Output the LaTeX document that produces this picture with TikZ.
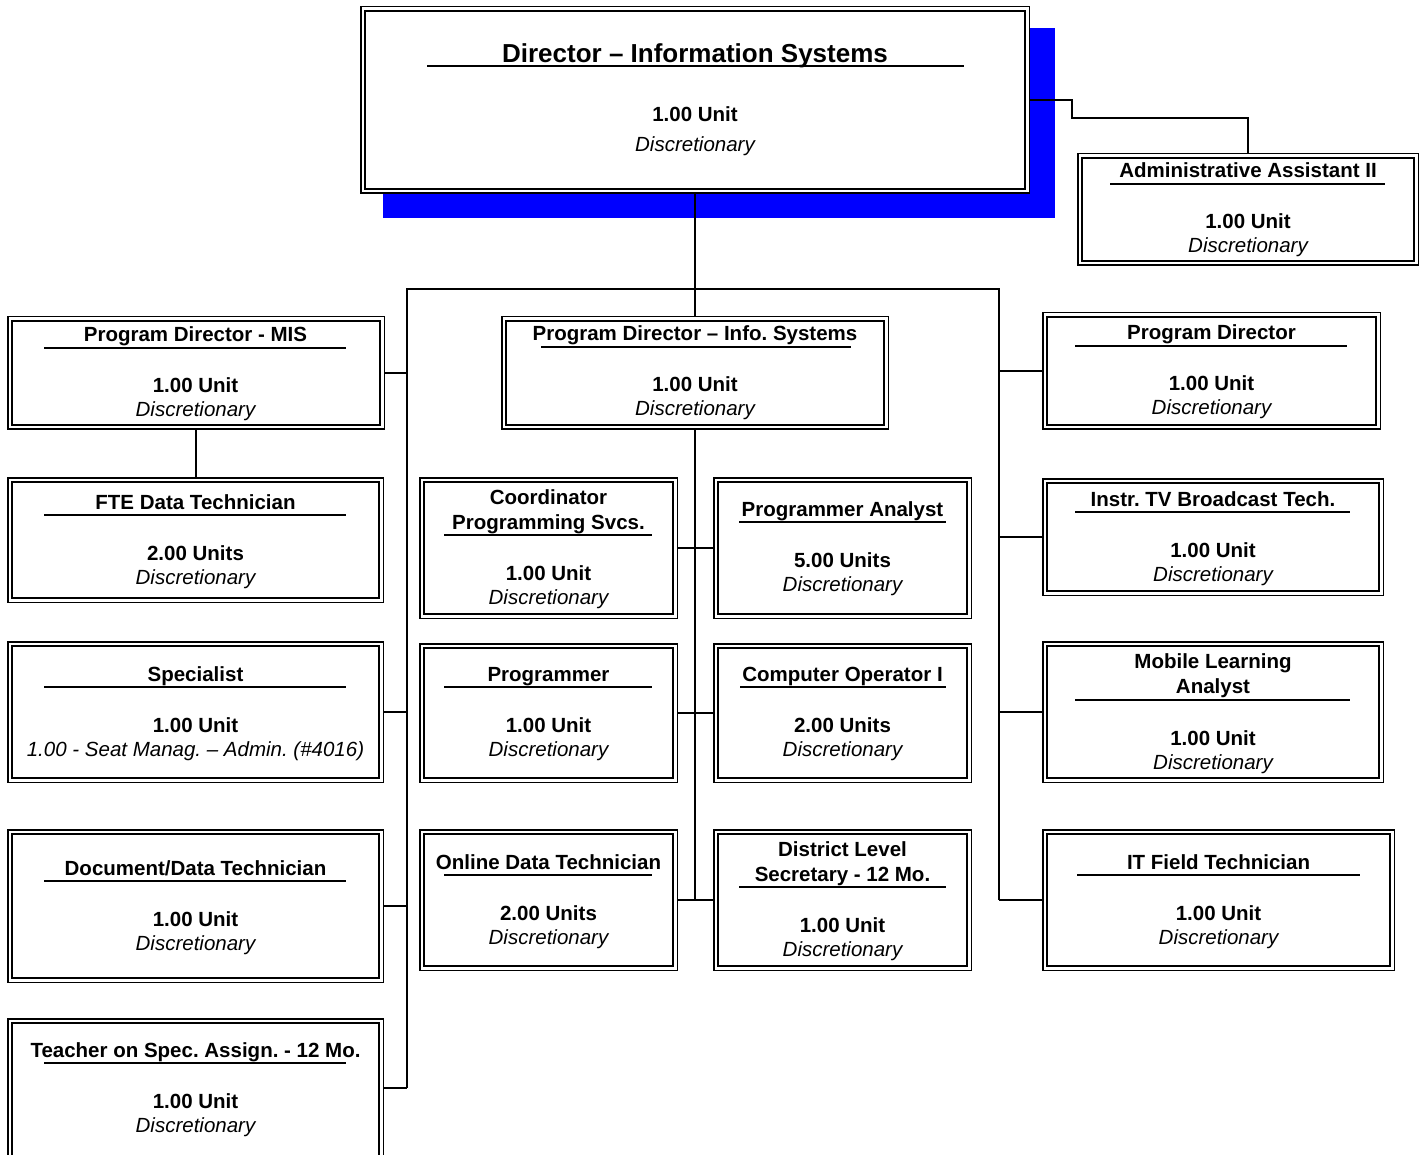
\documentclass[tikz,border=0pt]{standalone}
\usepackage{fontspec}
\setmainfont{Liberation Sans}
\usetikzlibrary{backgrounds}
\definecolor{shblue}{RGB}{0,0,255}
\frenchspacing
\newcommand{\fs}{\fontsize{20.5}{24}\selectfont\frenchspacing}
\newcommand{\fsbig}{\fontsize{26}{31}\selectfont\frenchspacing}
\newcommand{\bx}[5]{\node[orgbox, minimum width={#4pt-#2pt-5.6pt}, minimum height={#5pt-#3pt-5.6pt}] (#1) at ({(#2+#4)/2},{(#3+#5)/2}) {};}
% #1 prefix, #2 cx, #3 U, #4 ulx1, #5 ulx2, #6 unit, #7 sub
\newcommand{\stdtext}[7]{%
  \draw[ulline] (#4,#3) -- (#5,#3);
  \node[unitst] (#1u) at (#2,#3+45) {#6};
  \node[subst] (#1d) at (#2,#3+69) {#7};}
\begin{document}
\begin{tikzpicture}[x=1pt,y=-1pt,
  orgbox/.style={rectangle,draw=black,double=white,double distance=2.6pt,line width=1.5pt,fill=white,inner sep=0pt,outer sep=0pt},
  conn/.style={line width=1.9pt,draw=black},
  ulline/.style={line width=1.6pt,draw=black},
  titlest/.style={font=\bfseries\fs,anchor=base,inner sep=0pt},
  unitst/.style={font=\bfseries\fs,anchor=base,inner sep=0pt},
  subst/.style={font=\itshape\fs,anchor=base,inner sep=0pt}]
\useasboundingbox (0,0) rectangle (1422,1155);

% boxes
\bx{dir}{360}{6}{1030}{194}
\bx{admin}{1077}{153}{1419}{266}
\bx{pdmis}{7}{316}{385}{430}
\bx{pdis}{501}{316}{889}{430}
\bx{pdir}{1042}{312}{1381}{430}
\bx{fte}{7}{477}{384}{603}
\bx{coord}{419}{477}{678}{619}
\bx{pa}{713}{477}{972}{619}
\bx{itv}{1042}{478}{1384}{596}
\bx{spec}{7}{641}{384}{783}
\bx{prog}{419}{643}{678}{783}
\bx{cop}{713}{643}{972}{783}
\bx{mla}{1042}{641}{1384}{783}
\bx{doc}{7}{829}{384}{983}
\bx{odt}{419}{829}{678}{971}
\bx{dls}{713}{829}{972}{971}
\bx{itf}{1042}{829}{1395}{971}
\bx{tosa}{7}{1018}{384}{1175}

% director text
\node[font=\bfseries\fsbig,anchor=base,inner sep=0pt] (dirt) at (695,63) {Director \textendash{} Information Systems};
\draw[ulline] (427,66) -- (964,66);
\node[unitst] (diru) at (695,122) {1.00 Unit};
\node[subst] (dird) at (695,152) {Discretionary};

% other texts
\node[titlest] (admint) at (1248,178) {Administrative Assistant II};
\stdtext{admin}{1248}{184}{1110}{1385}{1.00 Unit}{Discretionary}

\node[titlest] (pdmist) at (195.5,342) {Program Director - MIS};
\stdtext{pdmis}{195.5}{348}{44}{346}{1.00 Unit}{Discretionary}

\node[titlest] (pdist) at (695,341) {Program Director \textendash{} Info. Systems};
\stdtext{pdis}{695}{347}{541}{851}{1.00 Unit}{Discretionary}

\node[titlest] (pdirt) at (1211.5,340) {Program Director};
\stdtext{pdir}{1211.5}{346}{1075}{1347}{1.00 Unit}{Discretionary}

\node[titlest] (ftet) at (195.5,509) {FTE Data Technician};
\stdtext{fte}{195.5}{515}{44}{346}{2.00 Units}{Discretionary}

\node[titlest] (coordta) at (548.5,504) {Coordinator};
\node[titlest] (coordtb) at (548.5,529) {Programming Svcs.};
\stdtext{coord}{548.5}{535}{444}{652}{1.00 Unit}{Discretionary}

\node[titlest] (pat) at (842.5,516) {Programmer Analyst};
\stdtext{pa}{842.5}{522}{739}{946}{5.00 Units}{Discretionary}

\node[titlest] (itvt) at (1213,506) {Instr. TV Broadcast Tech.};
\stdtext{itv}{1213}{512}{1075}{1350}{1.00 Unit}{Discretionary}

\node[titlest] (spect) at (195.5,681) {Specialist};
\stdtext{spec}{195.5}{687}{44}{346}{1.00 Unit}{1.00 - Seat Manag. \textendash{} Admin. (\#4016)}

\node[titlest] (progt) at (548.5,681) {Programmer};
\stdtext{prog}{548.5}{687}{444}{652}{1.00 Unit}{Discretionary}

\node[titlest] (copt) at (842.5,681) {Computer Operator I};
\stdtext{cop}{842.5}{687}{740}{946}{2.00 Units}{Discretionary}

\node[titlest] (mlata) at (1213,668) {Mobile Learning};
\node[titlest] (mlatb) at (1213,693) {Analyst};
\stdtext{mla}{1213}{700}{1075}{1350}{1.00 Unit}{Discretionary}

\node[titlest] (doct) at (195.5,875) {Document/Data Technician};
\stdtext{doc}{195.5}{881}{44}{346}{1.00 Unit}{Discretionary}

\node[titlest] (odtt) at (548.5,869) {Online Data Technician};
\stdtext{odt}{548.5}{875}{444}{652}{2.00 Units}{Discretionary}

\node[titlest] (dlsta) at (842.5,856) {District Level};
\node[titlest] (dlstb) at (842.5,881) {Secretary - 12 Mo.};
\stdtext{dls}{842.5}{887}{739}{946}{1.00 Unit}{Discretionary}

\node[titlest] (itft) at (1218.5,869) {IT Field Technician};
\stdtext{itf}{1218.5}{875}{1077}{1360}{1.00 Unit}{Discretionary}

\node[titlest] (tosat) at (195.5,1057) {Teacher on Spec. Assign. - 12 Mo.};
\stdtext{tosa}{195.5}{1063}{44}{346}{1.00 Unit}{Discretionary}

% bus coordinates
\coordinate (LT) at (407,289);
\coordinate (RT) at (999,289);
\coordinate (LB) at (407,1088);
\coordinate (CB) at (695,900);

\begin{scope}[on background layer]
  \fill[shblue] (383,28) rectangle (1055,218);
  \draw[conn] (dir.south) -- (pdis.north);
  \draw[conn] (dir.east) -- ++(45,0) -- ++(0,18) -| (admin.north);
  \draw[conn] (LB) -- (LT) -- (RT) -- (itf.west -| RT);
  \draw[conn] (pdmis.east) -- (pdmis.east -| LT);
  \draw[conn] (spec.east) -- (spec.east -| LT);
  \draw[conn] (doc.east) -- (doc.east -| LT);
  \draw[conn] (LB -| tosa.east) -- (LB);
  \draw[conn] (pdmis.south) -- (pdmis.south |- fte.north);
  \draw[conn] (pdir.west) -- (pdir.west -| RT);
  \draw[conn] (itv.west) -- (itv.west -| RT);
  \draw[conn] (mla.west) -- (mla.west -| RT);
  \draw[conn] (itf.west) -- (itf.west -| RT);
  \draw[conn] (pdis.south) -- (CB);
  \draw[conn] (coord.east) -- (pa.west);
  \draw[conn] (prog.east) -- (cop.west);
  \draw[conn] (odt.east) -- (dls.west);
\end{scope}
\end{tikzpicture}
\end{document}
